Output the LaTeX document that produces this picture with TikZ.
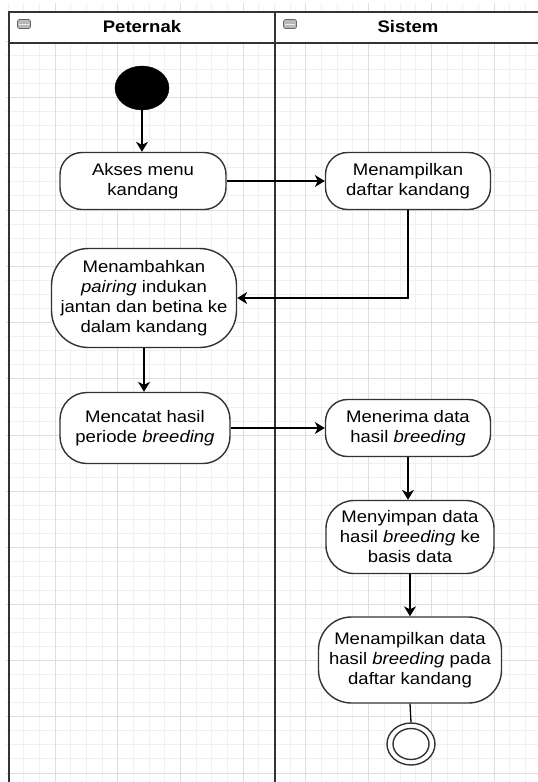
\documentclass[tikz,border=0pt]{standalone}
\usepackage{fontspec}
\setmainfont{Liberation Sans}[FakeStretch=1.11]
\usetikzlibrary{shapes.geometric,arrows.meta}
\definecolor{lanecol}{HTML}{333333}
\definecolor{gridminor}{HTML}{F0F0F0}
\definecolor{gridmajor}{HTML}{DEDEDE}
\tikzset{
  act/.style={draw=lanecol, line width=1.4pt, fill=white, align=center, inner sep=0pt,
    font=\fontsize{16.7pt}{20pt}\selectfont},
  flow/.style={draw=black, line width=1.3pt, -{Stealth[length=10pt,width=12pt,inset=3pt]}},
  plainflow/.style={draw=black, line width=1.3pt},
  lane/.style={draw=lanecol, line width=1.8pt},
  lanetitle/.style={font=\fontsize{16.7pt}{20pt}\selectfont\bfseries, inner sep=0pt},
  lanebtn/.style={draw=gray!80!black, fill=gray!55, rounded corners=1.5pt, line width=0.6pt,
    minimum width=13pt, minimum height=9pt, inner sep=0pt},
}
\begin{document}
\begin{tikzpicture}[x=1pt,y=-1pt]
\useasboundingbox (0,0) rectangle (538,782);
\fill[white] (0,0) rectangle (538,782);
% grid
\begin{scope}
\clip (6,3) rectangle (538,782);
\foreach \i in {0,...,36} {
  \draw[gridminor, line width=0.7pt] ({-7.7+15.675*\i},0) -- ({-7.7+15.675*\i},782);
}
\foreach \j in {0,...,58} {
  \draw[gridminor, line width=0.7pt] (0,{-15.3+14.075*\j}) -- (538,{-15.3+14.075*\j});
}
\foreach \i in {0,...,9} {
  \draw[gridmajor, line width=0.8pt] ({-7.7+62.7*\i},0) -- ({-7.7+62.7*\i},782);
}
\foreach \j in {0,...,14} {
  \draw[gridmajor, line width=0.8pt] (0,{-15.3+56.3*\j}) -- (538,{-15.3+56.3*\j});
}
\end{scope}
% swimlanes
\fill[white] (9,12) rectangle (545,43);
\draw[lane] (545,12) -- (9,12) -- (9,790);
\draw[lane] (9,43) -- (545,43);
\draw[lane] (275,12) -- (275,790);
\node[lanebtn] (btnA) at (24,24) {};
\draw[gray!15, line width=1pt] ([xshift=2pt]btnA.west) -- ([xshift=-2pt]btnA.east);
\node[lanebtn] (btnB) at (290,24) {};
\draw[gray!15, line width=1pt] ([xshift=2pt]btnB.west) -- ([xshift=-2pt]btnB.east);
\node[lanetitle] (tPeternak) at (142,27) {Peternak};
\node[lanetitle] (tSistem) at (408,27) {Sistem};
% nodes
\node[ellipse, fill=black, draw=black, minimum width=54pt, minimum height=44pt, inner sep=0pt] (start) at (142,88) {};
\node[act, rounded corners=22pt, minimum width=166pt, minimum height=57pt] (akses) at (143,181) {Akses menu\\kandang};
\node[act, rounded corners=22pt, minimum width=165pt, minimum height=57pt] (tampil) at (408,181) {Menampilkan\\daftar kandang};
\node[act, rounded corners=37pt, minimum width=185pt, minimum height=99pt] (tambah) at (144,298) {Menambahkan\\\textit{pairing} indukan\\jantan dan betina ke\\dalam kandang};
\node[act, rounded corners=27pt, minimum width=170pt, minimum height=71pt] (catat) at (145,428) {Mencatat hasil\\periode \textit{breeding}};
\node[act, rounded corners=22pt, minimum width=165pt, minimum height=57pt] (terima) at (408,428) {Menerima data\\hasil \textit{breeding}};
\node[act, rounded corners=28pt, minimum width=168pt, minimum height=73pt] (simpan) at (410,537) {Menyimpan data\\hasil \textit{breeding} ke\\basis data};
\node[act, rounded corners=33pt, minimum width=183pt, minimum height=86pt] (tampildata) at (410,660) {Menampilkan data\\hasil \textit{breeding} pada\\daftar kandang};
\node[ellipse, draw=lanecol, fill=white, line width=1.4pt, minimum width=48pt, minimum height=42pt, inner sep=0pt] (final) at (411,744) {};
\node[ellipse, draw=lanecol, fill=white, line width=1.4pt, minimum width=36pt, minimum height=31pt, inner sep=0pt] (finalin) at (411,744) {};
% edges
\draw[flow] (start.south) -- (start.south |- akses.north);
\draw[flow] (akses.east) -- (tampil.west);
\draw[flow] (tampil.south) |- (tambah.east);
\draw[flow] (tambah.south) -- (tambah.south |- catat.north);
\draw[flow] (catat.east) -- (catat.east -| terima.west);
\draw[flow] (terima.south) -- (terima.south |- simpan.north);
\draw[flow] (simpan.south) -- (tampildata.north);
\draw[plainflow] (tampildata.south) -- (final.north);
\end{tikzpicture}
\end{document}
